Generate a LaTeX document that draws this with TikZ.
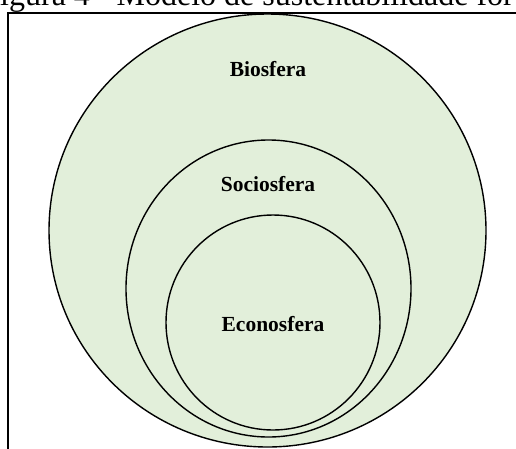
\documentclass[tikz,border=0pt]{standalone}
\usepackage{fontspec}
\setmainfont{Liberation Serif}
\usetikzlibrary{shapes.geometric}
\definecolor{biogreen}{RGB}{226,239,218}
\begin{document}
\begin{tikzpicture}[x=1pt,y=-1pt,
  sphere/.style={ellipse, draw=black, line width=1.4pt, fill=biogreen, inner sep=0pt},
  label/.style={font=\bfseries\fontsize{21.5}{24}\selectfont, anchor=base, inner sep=0pt},
  frame/.style={draw=black, line width=1.6pt}]
\useasboundingbox (0,0) rectangle (516,448);
\clip (0,0) rectangle (516,448);
\fill[white] (0,0) rectangle (516,448);
\node[anchor=base west, inner sep=0pt, font=\fontsize{32}{34}\selectfont] (cap) at (0,5) {igura 4 - Modelo de sustentabilidade for};
\draw[frame] (8,470) -- (8,13) -- (530,13);
\node[sphere, minimum width=437pt, minimum height=433pt] (bio) at (267.5,230.5) {};
\node[sphere, minimum width=285pt, minimum height=297pt] (socio) at (268.5,288.5) {};
\node[sphere, minimum width=214pt, minimum height=215pt] (econo) at (273,322.5) {};
\node[label] (tbio) at (268,76) {Biosfera};
\node[label] (tsocio) at (268,191) {Sociosfera};
\node[label] (tecono) at (273,331) {Econosfera};
\end{tikzpicture}
\end{document}
